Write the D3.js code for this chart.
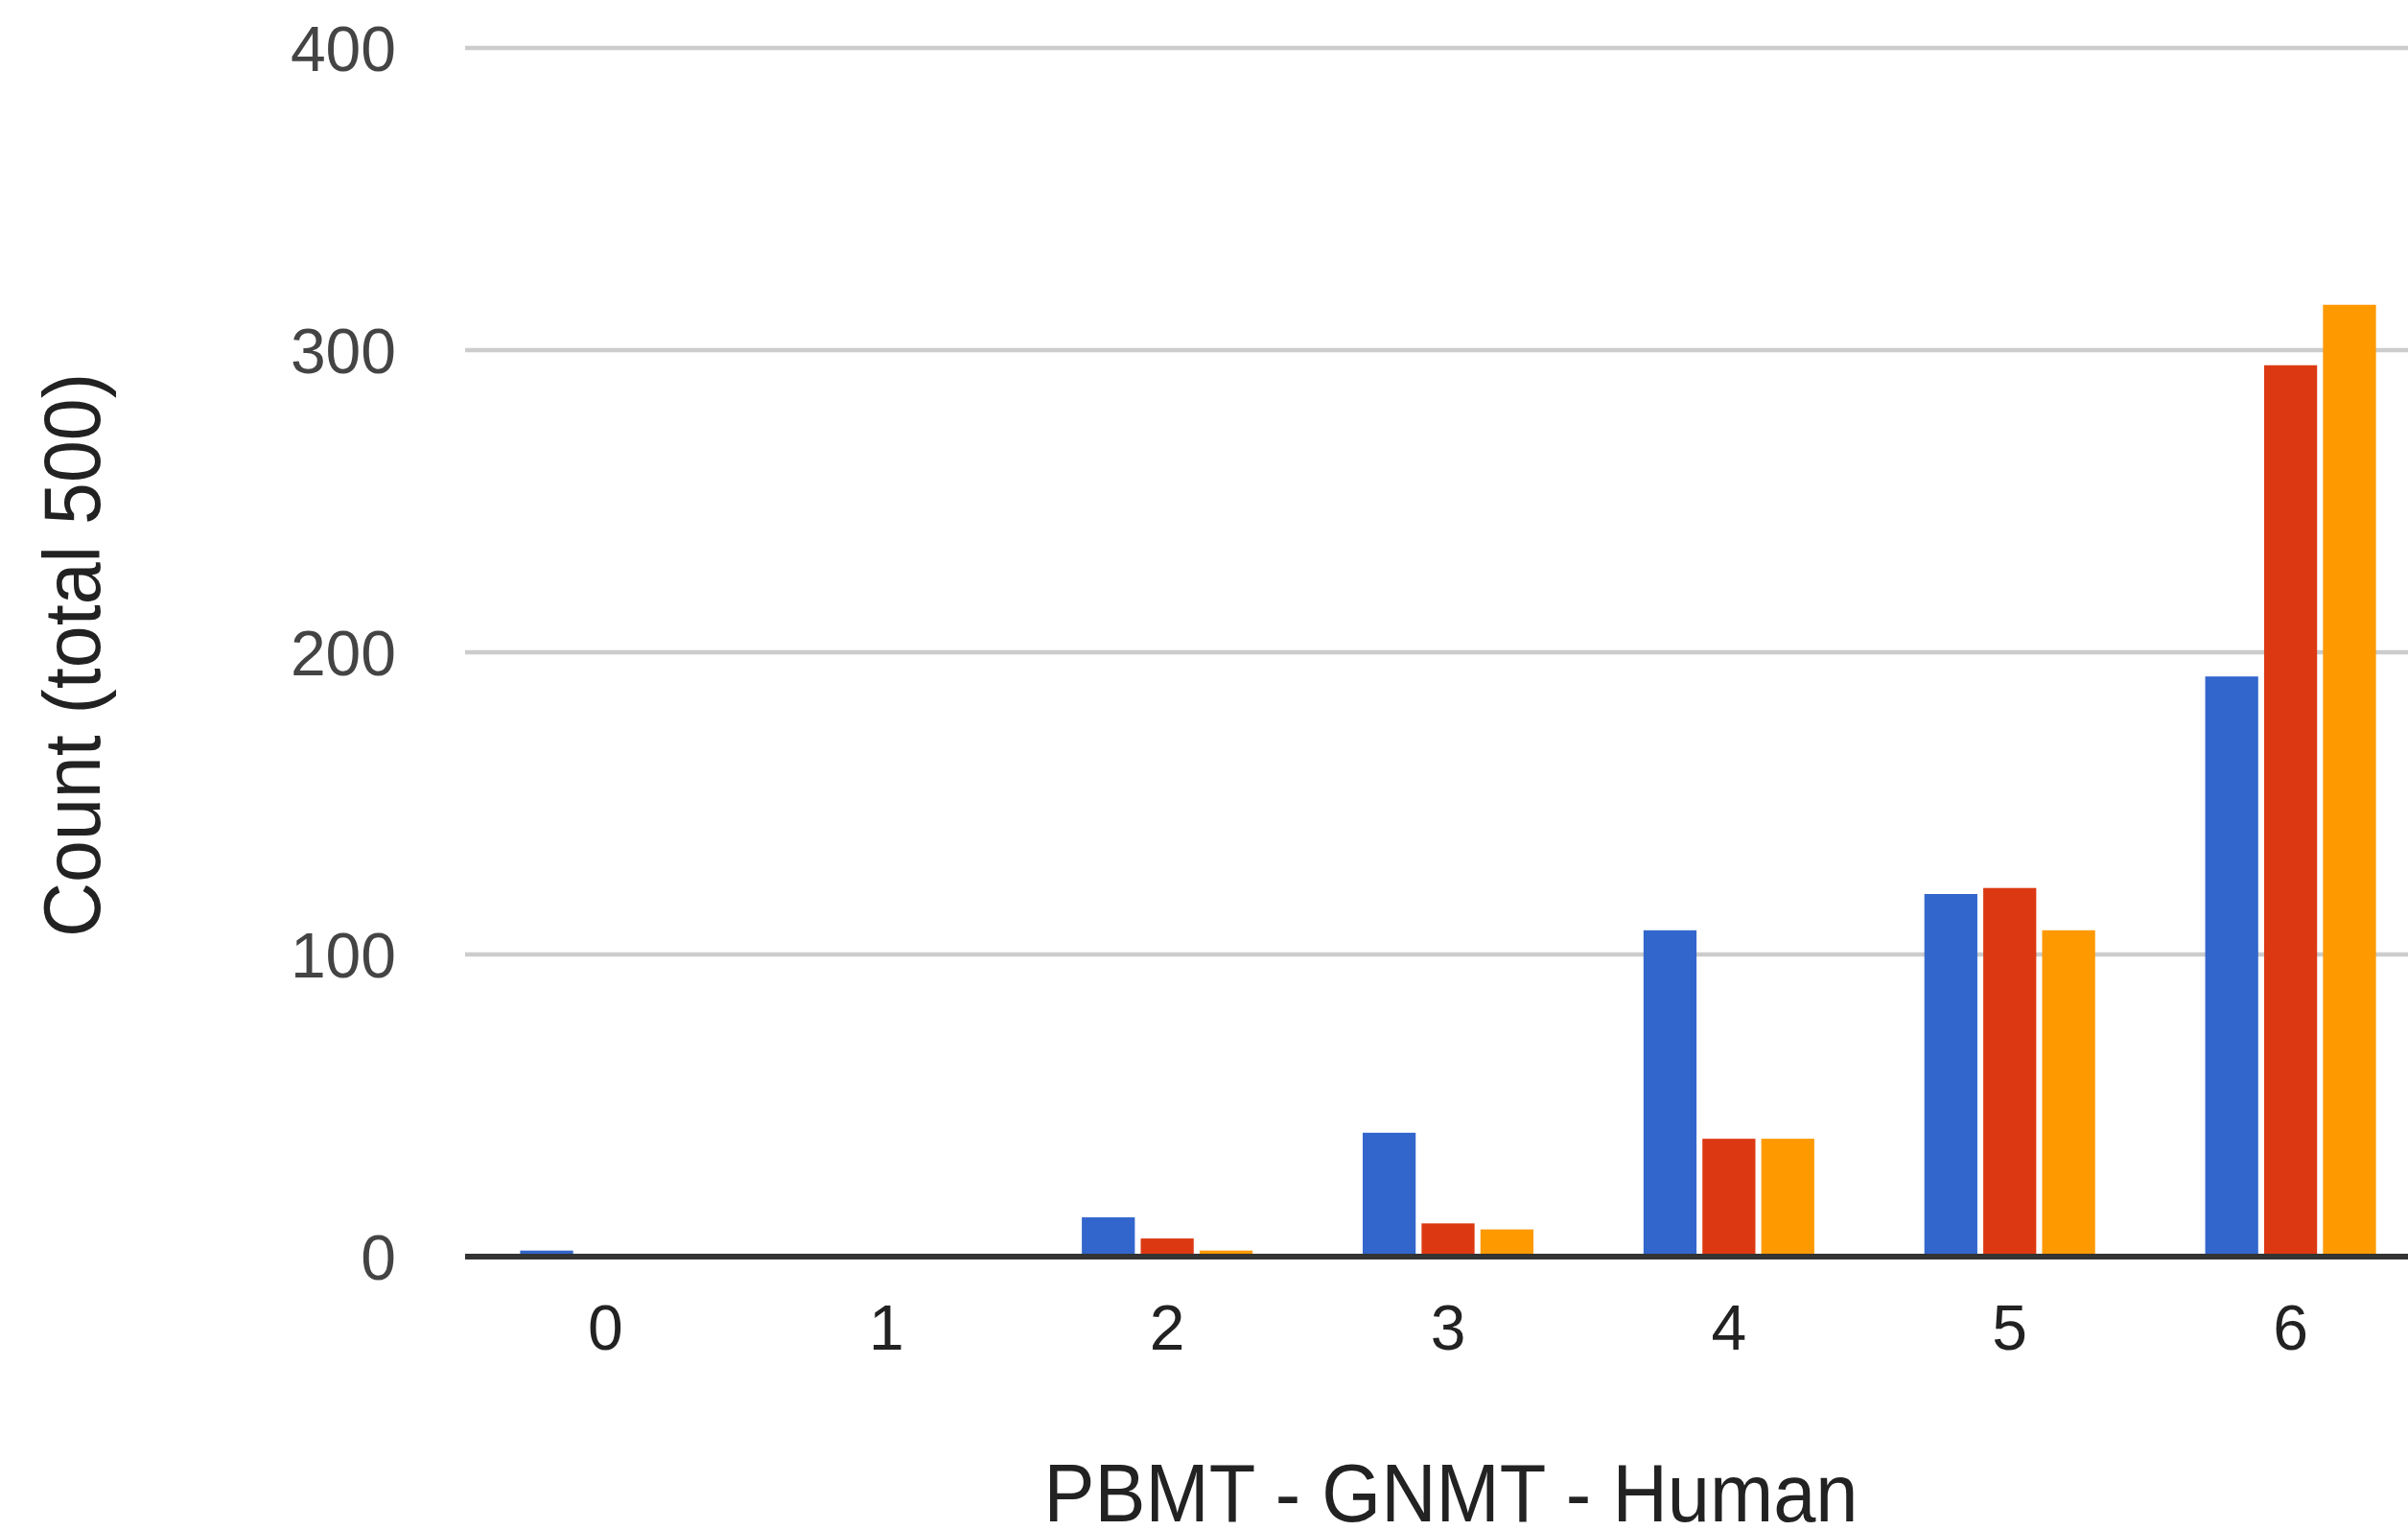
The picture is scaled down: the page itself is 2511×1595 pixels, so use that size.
<!DOCTYPE html>
<html>
<head>
<meta charset="utf-8">
<script src="https://cdn.jsdelivr.net/npm/d3@7"></script>
<style>
  body { margin: 0; background: #fff; }
  svg { display: block; }
</style>
</head>
<body>
<div id="chart"></div>
<script>
const width = 2511;
const height = 1595;
const fontFamily = "Liberation Sans, Arial, sans-serif";

// Data
const categories = ["0", "1", "2", "3", "4", "5", "6"];
const seriesNames = ["PBMT", "GNMT", "Human"];
const pbmt  = [2, 0, 13, 41, 108, 120, 192];
const gnmt  = [0, 0, 6, 11, 39, 122, 295];
const human = [0, 0, 2, 9, 39, 108, 315];
const colors = ["#3366cc", "#dc3912", "#ff9900"];
const yTicks = [0, 100, 200, 300, 400];

const series = [pbmt, gnmt, human];

// plot area (right side is cut off by the picture edge)
const plot = { left: 485, right: 2535, top: 50, bottom: 1310 };

const svg = d3.select("#chart")
  .append("svg")
  .attr("width", width)
  .attr("height", height);

const x0 = d3.scaleBand()
  .domain(categories)
  .range([plot.left, plot.right])
  .paddingInner(0.392)
  .paddingOuter(0.196);

const x1 = d3.scaleBand()
  .domain(seriesNames)
  .range([0, x0.bandwidth()])
  .paddingInner(0.1);

const y = d3.scaleLinear()
  .domain([0, 400])
  .range([plot.bottom, plot.top]);

// Gridlines
svg.append("g")
  .attr("class", "grid")
  .selectAll("line")
  .data(yTicks.filter(d => d > 0))
  .enter()
  .append("line")
  .attr("x1", plot.left)
  .attr("x2", width)
  .attr("y1", d => y(d))
  .attr("y2", d => y(d))
  .attr("stroke", "#cccccc")
  .attr("stroke-width", 4.5);

// Y tick labels
svg.append("g")
  .attr("class", "y-labels")
  .selectAll("text")
  .data(yTicks)
  .enter()
  .append("text")
  .attr("x", 413)
  .attr("y", d => y(d))
  .attr("dy", "0.36em")
  .attr("text-anchor", "end")
  .attr("fill", "#444")
  .attr("font-family", fontFamily)
  .attr("font-size", "66px")
  .text(d => d);

// Bars
const groups = svg.append("g")
  .attr("class", "bars")
  .selectAll("g")
  .data(categories)
  .enter()
  .append("g")
  .attr("transform", d => `translate(${x0(d)},0)`);

groups.selectAll("rect")
  .data((c, i) => seriesNames.map((s, j) => ({ s: s, j: j, v: series[j][i] })))
  .enter()
  .append("rect")
  .filter(d => d.v > 0)
  .attr("x", d => x1(d.s))
  .attr("width", x1.bandwidth())
  .attr("y", d => y(d.v))
  .attr("height", d => y(0) - y(d.v))
  .attr("fill", d => colors[d.j]);

// Baseline
svg.append("line")
  .attr("x1", plot.left)
  .attr("x2", width)
  .attr("y1", y(0))
  .attr("y2", y(0))
  .attr("stroke", "#333333")
  .attr("stroke-width", 6);

// X tick labels
svg.append("g")
  .attr("class", "x-labels")
  .selectAll("text")
  .data(categories)
  .enter()
  .append("text")
  .attr("x", d => x0(d) + x0.bandwidth() / 2)
  .attr("y", 1407)
  .attr("text-anchor", "middle")
  .attr("fill", "#222")
  .attr("font-family", fontFamily)
  .attr("font-size", "66px")
  .text(d => d);

// X axis title
svg.append("text")
  .attr("x", 1513)
  .attr("y", 1586)
  .attr("text-anchor", "middle")
  .attr("fill", "#222")
  .attr("font-family", fontFamily)
  .attr("font-size", "86px")
  .attr("textLength", 849)
  .attr("lengthAdjust", "spacingAndGlyphs")
  .text("PBMT - GNMT - Human");

// Y axis title
svg.append("text")
  .attr("transform", "translate(104,683) rotate(-90)")
  .attr("text-anchor", "middle")
  .attr("fill", "#222")
  .attr("font-family", fontFamily)
  .attr("font-size", "84px")
  .attr("textLength", 588)
  .attr("lengthAdjust", "spacingAndGlyphs")
  .text("Count (total 500)");
</script>
</body>
</html>
